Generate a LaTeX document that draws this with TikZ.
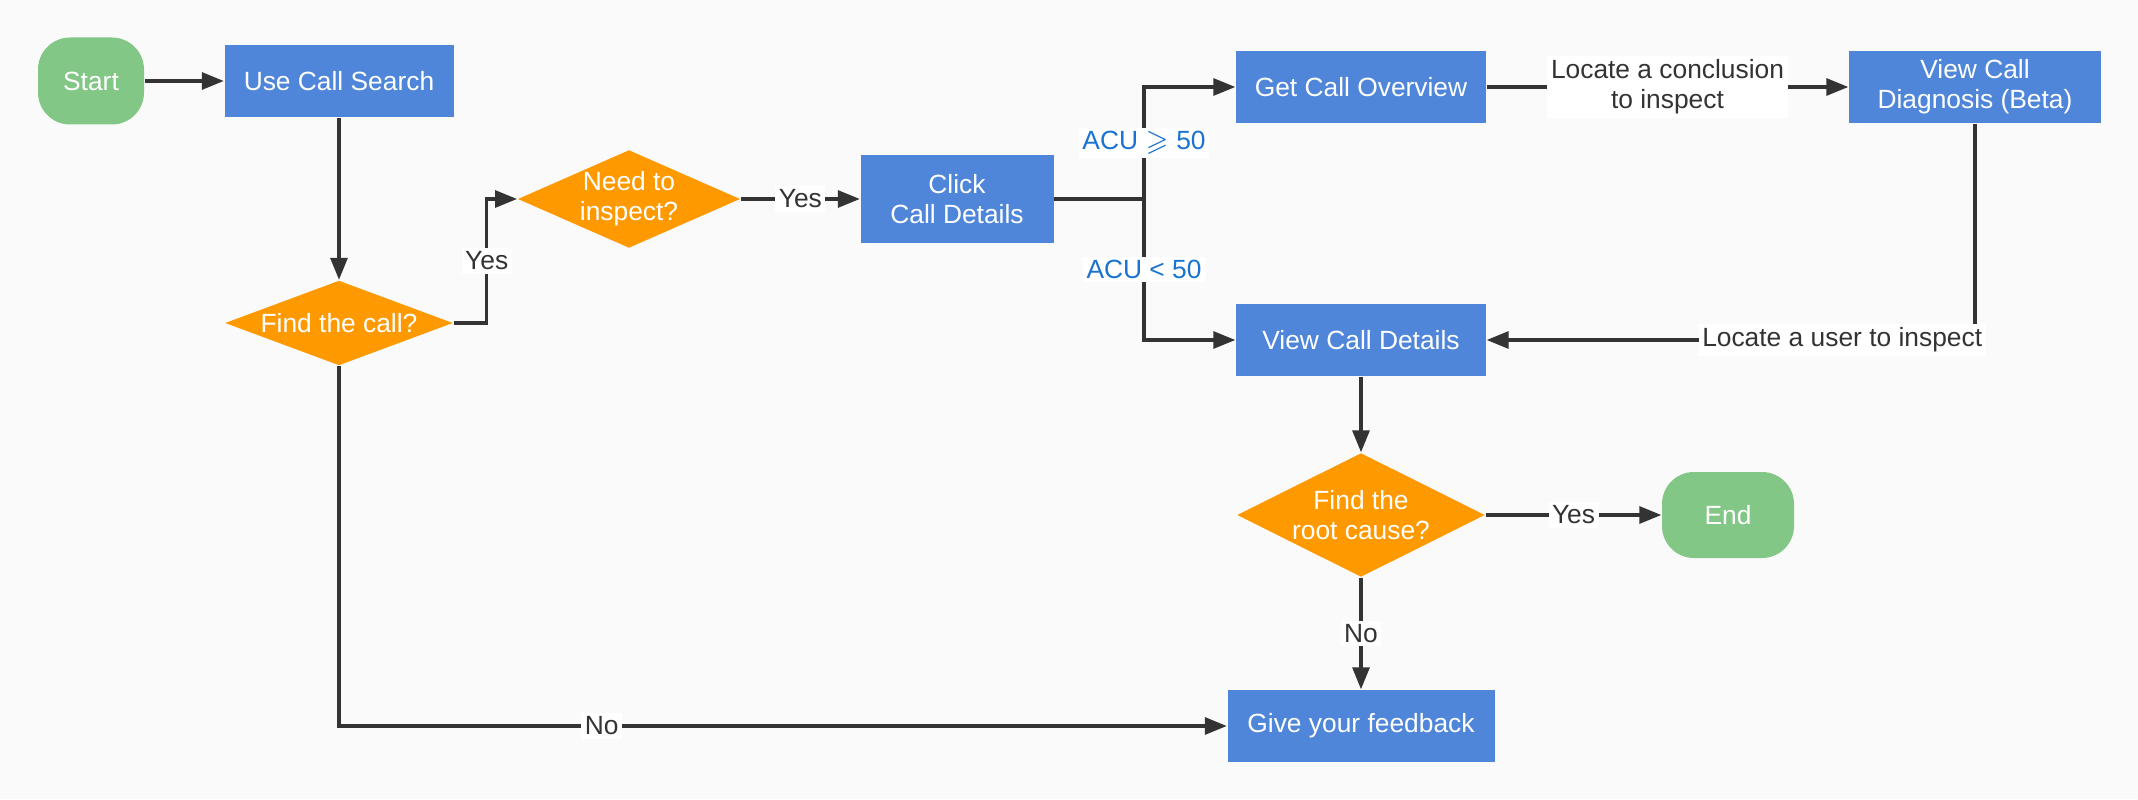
\documentclass[tikz,border=0pt]{standalone}
\usepackage{amssymb}
\usepackage{fontspec}
\setmainfont{Liberation Sans}
\usetikzlibrary{arrows.meta, positioning, shapes.geometric}

\definecolor{boxblue}{HTML}{4F86D9}
\definecolor{decorange}{HTML}{FF9900}
\definecolor{termgreen}{HTML}{82C785}
\definecolor{linegray}{HTML}{333333}
\definecolor{acublue}{HTML}{1A73D0}
\definecolor{canvas}{HTML}{FAFAFA}

\begin{document}
\begin{tikzpicture}[
    font=\fontsize{7.5pt}{8.6pt}\selectfont,
    box/.style={rectangle, fill=boxblue, text=white, minimum width=2.5cm, minimum height=0.72cm, align=center, inner sep=1pt},
    decision/.style={diamond, fill=decorange, text=white, align=center, inner sep=0pt},
    terminal/.style={rectangle, rounded corners=0.32cm, fill=termgreen, text=white, minimum height=0.87cm},
    arrow/.style={-{Triangle[length=0.22cm, width=0.17cm]}, line width=0.9pt, draw=linegray},
    line/.style={line width=0.9pt, draw=linegray},
    edgelabel/.style={fill=white, text=linegray, inner sep=1pt, align=center},
    cond/.style={fill=white, text=acublue, inner sep=1pt},
]

% ===== Canvas =====
\fill[canvas] (0, 0) rectangle (21.38, 7.99);
\useasboundingbox (0, 0) rectangle (21.38, 7.99);

% ===== Left: search and decisions =====
\node[terminal, minimum width=1.06cm] (start) at (0.91, 7.18) {Start};
\node[box, minimum width=2.29cm] (search) at (3.39, 7.18) {Use Call Search};
\node[decision, aspect=2.68, minimum width=2.28cm, minimum height=0.85cm] (findcall) at (3.39, 4.76) {Find the call?};
\node[decision, aspect=2.27, minimum width=2.22cm, minimum height=0.98cm] (inspect) at (6.29, 6.00) {Need to\\inspect?};
\node[box, minimum width=1.93cm, minimum height=0.88cm] (click) at (9.57, 6.00) {Click\\Call Details};
\coordinate (fork) at (11.44, 6.00);

% ===== Right: inspection paths =====
\node[box] (overview) at (13.61, 7.12) {Get Call Overview};
\node[box, minimum width=2.52cm] (diagnosis) at (19.75, 7.12) {View Call\\Diagnosis (Beta)};
\node[box] (viewdetails) at (13.61, 4.59) {View Call Details};

% ===== Bottom: result =====
\node[decision, aspect=2, minimum width=2.48cm, minimum height=1.24cm] (rootcause) at (13.61, 2.84) {Find the\\root cause?};
\node[terminal, minimum width=1.32cm, minimum height=0.86cm] (finish) at (17.28, 2.84) {End};
\node[box, minimum width=2.67cm] (feedback) at (13.61, 0.73) {Give your feedback};

% ===== Arrows =====
\draw[arrow] (start) -- (search);
\draw[arrow] (search) -- (findcall);
\draw[arrow] (findcall.east) -- ++(0.33, 0) |- (inspect.west) node[pos=0.25, edgelabel] {Yes};
\draw[arrow] (inspect) -- (click) node[midway, edgelabel] {Yes};
\draw[line] (click) -- (fork);
\draw[arrow] (fork) |- (overview) node[pos=0.25, cond] {ACU $\geqslant$ 50};
\draw[arrow] (fork) |- (viewdetails) node[pos=0.25, cond] {ACU < 50};
\draw[arrow] (overview) -- (diagnosis) node[midway, edgelabel] {Locate a conclusion\\to inspect};
\draw[arrow] (diagnosis) |- (viewdetails) node[pos=0.636, edgelabel] {Locate a user to inspect};
\draw[arrow] (viewdetails) -- (rootcause);
\draw[arrow] (rootcause) -- (finish) node[midway, edgelabel] {Yes};
\draw[arrow] (rootcause) -- (feedback) node[midway, edgelabel] {No};
\draw[arrow] (findcall) |- (feedback) node[pos=0.648, edgelabel] {No};

\end{tikzpicture}
\end{document}
